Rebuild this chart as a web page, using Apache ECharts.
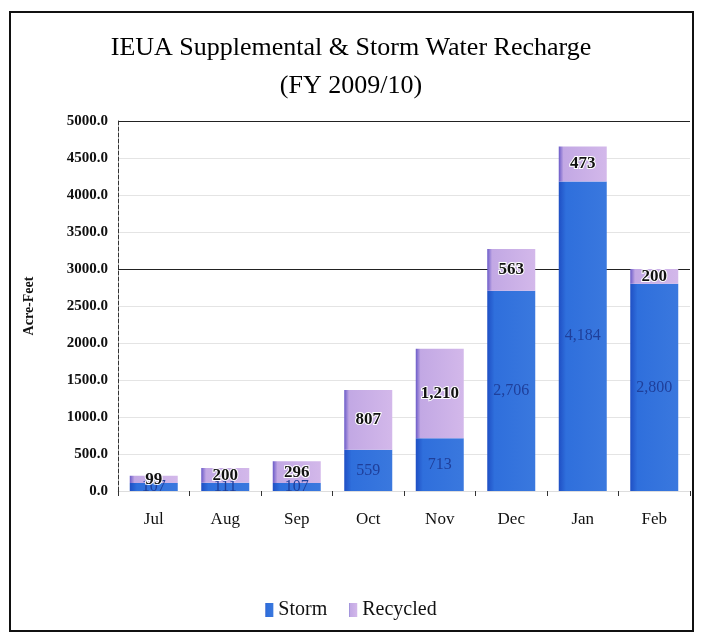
<!DOCTYPE html>
<html>
<head>
<meta charset="utf-8">
<script src="https://cdn.jsdelivr.net/npm/echarts@6/dist/echarts.min.js"></script>
<style>
  html, body { margin: 0; padding: 0; background: #fff; }
  #chart { width: 702px; height: 635px; }
</style>
</head>
<body>
<div id="chart"></div>
<script>
  // IEUA supplemental & storm water recharge, FY 2009/10 (acre-feet)
  var months = ['Jul', 'Aug', 'Sep', 'Oct', 'Nov', 'Dec', 'Jan', 'Feb']
  var storm = [107, 111, 107, 559, 713, 2706, 4184, 2800]
  var recycled = [99, 200, 296, 807, 1210, 563, 473, 200]
  var yTicks = [0, 500, 1000, 1500, 2000, 2500, 3000, 3500, 4000, 4500, 5000]

  var serif = '"Liberation Serif", "DejaVu Serif", serif'
  var chart = echarts.init(document.getElementById('chart'))

  function fmt(v) {
    return Number(v).toLocaleString('en-US')
  }

  // the scan shows only the 3000 and 5000 grid lines as solid dark rules
  var gridColors = yTicks.map(function(t) {
    return (t === 3000 || t === 5000) ? '#222' : '#e4e4e4'
  })

  var option = {
    backgroundColor: '#fff',
    title: {
      text: 'IEUA Supplemental & Storm Water Recharge\n(FY 2009/10)',
      left: 'center',
      top: 24,
      textStyle: {
        fontFamily: serif,
        fontSize: 26,
        fontWeight: 'normal',
        color: '#000',
        lineHeight: 38
      }
    },
    legend: {
      bottom: 10,
      left: 'center',
      itemWidth: 8,
      itemHeight: 14,
      itemGap: 22,
      icon: 'rect',
      textStyle: { fontFamily: serif, fontSize: 20, color: '#111' },
      data: ['Storm', 'Recycled']
    },
    grid: {
      left: 118,
      right: 12,
      top: 121,
      bottom: 144
    },
    xAxis: {
      type: 'category',
      data: months,
      axisLine: { show: true, lineStyle: { color: '#ddd' } },
      axisTick: { show: true, lineStyle: { color: '#333' } },
      axisLabel: {
        fontFamily: serif,
        fontSize: 17,
        color: '#111',
        margin: 20
      }
    },
    yAxis: {
      type: 'value',
      min: 0,
      max: 5000,
      interval: 500,
      name: 'Acre-Feet',
      nameLocation: 'middle',
      nameGap: 82,
      nameTextStyle: {
        fontFamily: serif,
        fontSize: 14,
        fontWeight: 'bold',
        color: '#111'
      },
      axisLine: { show: true, lineStyle: { color: '#333', type: 'dashed' } },
      axisTick: { show: false },
      axisLabel: {
        fontFamily: serif,
        fontSize: 15,
        fontWeight: 'bold',
        color: '#111',
        margin: 10,
        formatter: function(v) { return v.toFixed(1) }
      },
      splitLine: {
        show: true,
        lineStyle: { color: gridColors, width: 1.2 }
      }
    },
    series: [{
      name: 'Storm',
      type: 'bar',
      stack: 'total',
      data: storm,
      barWidth: 48,
      itemStyle: {
        color: new echarts.graphic.LinearGradient(0, 0, 1, 0, [
          { offset: 0, color: '#1f4fc4' },
          { offset: 0.15, color: '#2f6fdc' },
          { offset: 1, color: '#3a78de' }
        ])
      },
      label: {
        show: true,
        position: 'inside',
        fontFamily: serif,
        fontSize: 16,
        color: '#1f3f9a',
        formatter: function(p) { return fmt(p.value) }
      }
    }, {
      name: 'Recycled',
      type: 'bar',
      stack: 'total',
      data: recycled,
      barWidth: 48,
      itemStyle: {
        color: new echarts.graphic.LinearGradient(0, 0, 1, 0, [
          { offset: 0, color: '#6a5ac8' },
          { offset: 0.1, color: '#c2a8e4' },
          { offset: 1, color: '#d3b8ea' }
        ])
      },
      label: {
        show: true,
        position: 'inside',
        fontFamily: serif,
        fontSize: 17,
        fontWeight: 'bold',
        color: '#111',
        textBorderColor: '#fff',
        textBorderWidth: 2,
        formatter: function(p) { return fmt(p.value) }
      }
    }],
    graphic: [{
      type: 'rect',
      shape: { x: 10, y: 12, width: 683, height: 619 },
      style: { fill: 'none', stroke: '#111', lineWidth: 2 },
      silent: true
    }]
  }

  chart.setOption(option)
</script>
</body>
</html>
